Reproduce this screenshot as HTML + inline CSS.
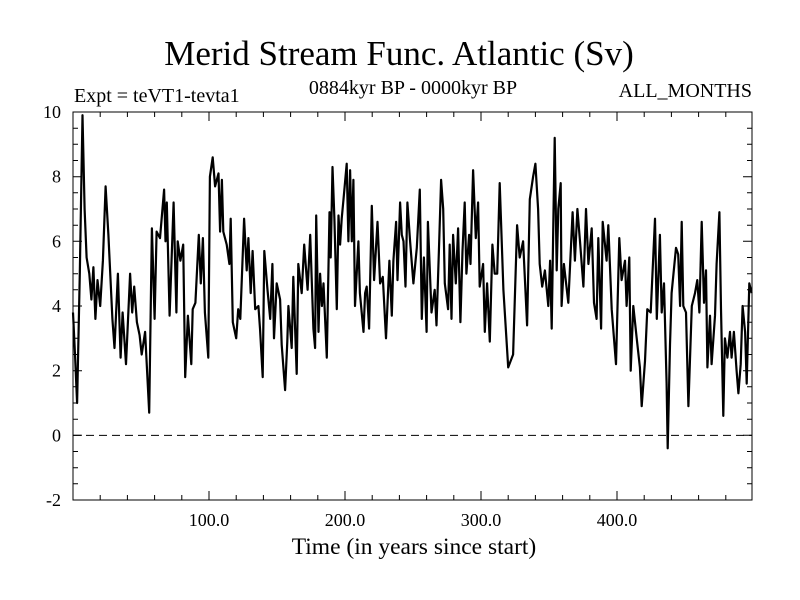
<!DOCTYPE html>
<html><head><meta charset="utf-8"><style>
body{margin:0;background:#fff}
svg{display:block;font-family:"Liberation Serif",serif}
</style></head><body>
<svg id="chart" width="800" height="600" viewBox="0 0 800 600">
<rect width="800" height="600" fill="#fff"/>
<text x="399" y="65" font-size="35" text-anchor="middle">Merid Stream Func. Atlantic (Sv)</text>
<text x="74" y="102" font-size="20">Expt = teVT1-tevta1</text>
<text x="413" y="94" font-size="20" text-anchor="middle">0884kyr BP - 0000kyr BP</text>
<text x="752" y="97" font-size="20" text-anchor="end">ALL_MONTHS</text>
<text x="414" y="554" font-size="23.5" text-anchor="middle">Time (in years since start)</text>
<g id="axes"></g>
<g id="series"></g>
</svg>
<script>
const years=[0,1.5,3,5,7,8.5,10,12,13.5,15,16.5,18,20,22,24,26,29,30.5,33,35,36.5,39,42,43.5,45,47,49,50.5,53,56,58,60,61.5,64,67,68,69,71,74,76,77,79,81,82.5,84.5,87,88,90,92.5,94,95.5,97,99.5,100.7,102.7,104.5,107,108.2,109.5,110.5,113,115,116,117.5,120,121.5,123,125.8,127.7,129,130.7,132.1,134,136.3,137.5,139.5,140.7,143,145,146.6,147.8,149.8,152.3,153.5,156,157.6,158.4,160.8,162,164.5,165.7,168.2,170,172.5,174.4,176.8,178,178.8,180.5,181.7,183,184.2,185.4,186.6,188.6,189.5,190.8,192.2,194,195.2,196.4,197.6,198.9,201.3,202.5,203.8,205,206.2,207.4,209.9,211,213.6,214.8,216,217.7,219.7,221.4,223.9,225.8,227.8,230.2,232.7,234.4,235.6,237.6,238.6,240.5,241.8,243,244.5,245.9,247.9,250.3,252.8,255,256.5,258,260,261,263.6,266,267.3,269.2,270.7,272.2,273.4,275.8,277,278.3,279.5,281.5,283.2,284.9,286.4,288,289.3,291.3,292.3,294.2,296.2,297.9,299.1,301.6,302.8,304.5,306.5,308.4,310.1,311.9,313.8,316.5,320,323.6,326.6,328.5,331,333.9,335.9,338.3,340,342,343.2,345,347,349.5,350.8,352,353.2,354.2,355.7,356.9,358.6,359.3,361,364.2,367.4,369.1,370.9,372.8,375.3,377.2,379,381.4,383.1,385,386.3,388.3,389.5,392.4,393.6,396.1,399.3,401.7,403.4,405.9,407.1,409.1,410.1,412,414.5,416.9,418.2,420.6,422.3,424.8,428,429.3,431.6,432.9,434.6,436.5,437.3,439,440.2,443.4,445,446.4,447.6,448.8,450.8,452.5,455,457.4,459.1,460.6,462.3,464,465.5,466.5,468.4,469.6,472.1,473.3,475.3,476.5,478.2,479.4,481.2,483.1,484.3,486,488,489.3,491,492.4,494.2,495.4,497.3,499];
const values=[3.8,2.5,1.0,5.0,9.9,7.0,5.5,5.0,4.2,5.2,3.6,4.8,4.0,5.4,7.7,6.2,3.6,2.7,5.0,2.4,3.8,2.2,5.0,3.8,4.6,3.5,3.1,2.5,3.2,0.7,6.4,3.6,6.3,6.1,7.6,6.0,7.2,3.7,7.2,3.8,6.0,5.4,5.9,1.8,3.7,2.2,3.9,4.1,6.2,4.7,6.1,3.8,2.4,8.0,8.6,7.7,8.1,6.3,7.9,6.3,5.9,5.3,6.7,3.5,3.0,3.9,3.6,6.7,5.1,6.1,4.4,5.7,3.9,4.0,3.3,1.8,5.7,4.5,3.6,5.3,3.0,4.7,4.2,2.8,1.4,2.9,4.0,2.7,4.9,1.9,5.3,4.4,5.9,4.5,6.2,3.3,2.7,6.8,3.2,5.0,4.0,4.7,3.6,2.4,6.9,5.5,8.3,6.7,3.9,6.8,5.9,6.7,7.3,8.4,6.0,8.2,6.0,7.9,4.0,6.0,4.4,3.2,4.4,4.6,3.3,7.1,4.8,6.6,4.7,4.9,3.0,5.4,3.7,5.4,6.6,4.8,7.2,6.2,6.0,4.6,7.2,6.0,4.7,5.8,7.6,3.6,5.5,3.2,6.6,3.8,4.5,3.4,5.9,7.9,7.0,4.7,3.9,5.9,3.6,6.2,4.7,6.4,3.5,5.7,7.2,5.0,6.2,5.3,8.2,6.1,7.2,4.6,5.3,3.2,4.7,2.9,5.9,5.0,5.0,7.8,4.5,2.1,2.5,6.5,5.5,6.0,3.4,7.3,8.0,8.4,7.0,5.3,4.6,5.1,4.0,5.4,3.3,6.5,9.2,5.1,7.0,7.8,4.0,5.3,4.1,6.9,5.4,7.0,6.0,4.6,7.0,5.3,6.4,4.1,3.6,6.1,3.3,6.6,5.4,6.5,3.9,2.2,6.1,4.8,5.4,4.0,5.5,2.0,4.0,3.0,2.1,0.9,2.3,3.9,3.8,6.7,3.6,6.2,3.8,4.7,1.6,-0.4,2.8,4.4,5.8,5.6,4.0,6.6,4.0,3.8,0.9,4.0,4.4,4.8,3.8,6.6,4.1,5.1,2.1,3.7,2.2,3.7,5.3,6.9,3.9,0.6,3.0,2.4,3.2,2.4,3.2,2.0,1.3,2.2,4.0,3.2,1.6,4.7,4.4];
const yTickValues=[-2,0,2,4,6,8,10];
const xTickValues=[100,200,300,400];
const xTickLabels=["100.0","200.0","300.0","400.0"];

const L=73,R=752,T=112,B=500,X0=0,X1=499.3,Y0=-2,Y1=10;
const sx=v=>L+(v-X0)/(X1-X0)*(R-L);
const sy=v=>B-(v-Y0)/(Y1-Y0)*(B-T);
const NS='http://www.w3.org/2000/svg';
function mk(tag,attrs,parent){const e=document.createElementNS(NS,tag);for(const k in attrs)e.setAttribute(k,attrs[k]);parent.appendChild(e);return e;}
const ax=document.getElementById('axes');
const frame=mk('rect',{x:L,y:T,width:R-L,height:B-T,fill:'none',stroke:'#000','stroke-width':1},ax);


let d='';
for(let v=0;v<=X1;v+=20){const x=sx(v).toFixed(1);const len=(v%100===0)?9:5;if(v>0)d+=`M${x} ${B}v${-len}M${x} ${T}v${len}`;}
for(let v=Y0;v<=Y1;v+=0.5){const y=sy(v).toFixed(1);const len=(Math.abs(v%2)<1e-9)?9:5;d+=`M${L} ${y}h${len}M${R} ${y}h${-len}`;}
const ticks=mk('path',{d:d,stroke:'#000','stroke-width':1,fill:'none'},ax);


yTickValues.forEach(v=>{const t=mk('text',{x:L-12,y:sy(v)+6,'font-size':18,'text-anchor':'end'},ax);t.textContent=String(v);

});
xTickValues.forEach((v,i)=>{const t=mk('text',{x:sx(v),y:B+26,'font-size':18,'text-anchor':'middle'},ax);t.textContent=xTickLabels[i];

});
const zl=mk('line',{x1:L,x2:R,y1:sy(0),y2:sy(0),stroke:'#000','stroke-width':1,'stroke-dasharray':'8,5'},ax);


const pts=years.map((yr,i)=>sx(yr).toFixed(1)+','+sy(values[i]).toFixed(1)).join(' ');
const line=mk('polyline',{points:pts,fill:'none',stroke:'#000','stroke-width':2.2,'stroke-linejoin':'round'},document.getElementById('series'));


</script>
</body></html>
